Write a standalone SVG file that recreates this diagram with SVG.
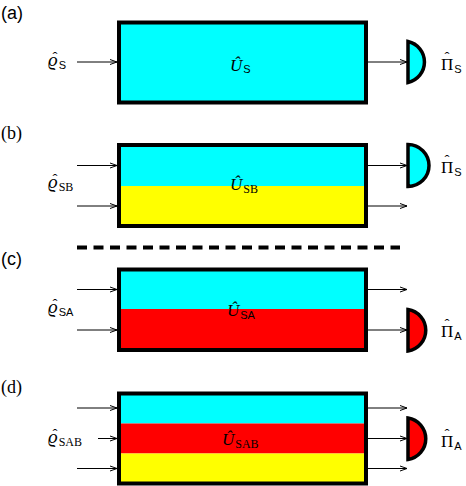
<svg xmlns="http://www.w3.org/2000/svg" width="466" height="486" viewBox="0 0 466 486">
<style>
.box{stroke:#000;stroke-width:4;fill:none}
.det{stroke:#000;stroke-width:3.5}
.cy{fill:#00FFFF}
.ye{fill:#FFFF00}
.rd{fill:#FF0000}
.ln{stroke:#000;stroke-width:1;fill:none;marker-end:url(#ah)}
.panel{font-family:"Liberation Sans",Arial,sans-serif;font-size:18px;fill:#000}
.panels{font-family:"Liberation Serif","Times New Roman",serif;font-size:18px;fill:#000}
.m{font-family:"Liberation Serif","Times New Roman",serif;font-size:17px;fill:#000}
.rho{font-size:19px}
.hat{font-family:"Liberation Serif","Times New Roman",serif;font-size:15px;fill:#000;text-anchor:middle}
.it{font-style:italic}
.sub{font-family:"Liberation Sans",Arial,sans-serif;font-size:11px;font-style:normal}
.subs{font-family:"Liberation Serif","Times New Roman",serif;font-size:12px;font-style:normal}
</style>
<defs>
<marker id="ah" markerUnits="userSpaceOnUse" markerWidth="10" markerHeight="8" viewBox="-8 -4 10 8" refX="0" refY="0" orient="auto">
<path d="M-7,-2.5 L0,0 L-7,2.5" stroke="#000" stroke-width="1" fill="none"/>
</marker>
</defs>

<g id="panel-labels">
<text class="panel" x="1" y="19">(a)</text>
<text class="panels" x="1" y="139">(b)</text>
<text class="panel" x="1" y="265">(c)</text>
<text class="panels" x="1" y="393">(d)</text>
</g>

<g id="separator">
<line x1="77" y1="247.5" x2="400" y2="247.5" stroke="#000" stroke-width="4" stroke-dasharray="10 6.5"/>
</g>

<g id="connectors">
<line class="ln" x1="77" y1="62" x2="117" y2="62"/>
<line class="ln" x1="368" y1="62" x2="407" y2="62"/>
<line class="ln" x1="77" y1="165.5" x2="117" y2="165.5"/>
<line class="ln" x1="77" y1="206" x2="117" y2="206"/>
<line class="ln" x1="368" y1="165.5" x2="407" y2="165.5"/>
<line class="ln" x1="368" y1="206" x2="407" y2="206"/>
<line class="ln" x1="77" y1="289.5" x2="117" y2="289.5"/>
<line class="ln" x1="77" y1="330" x2="117" y2="330"/>
<line class="ln" x1="368" y1="289.5" x2="407" y2="289.5"/>
<line class="ln" x1="368" y1="330" x2="407" y2="330"/>
<line class="ln" x1="77" y1="408" x2="117" y2="408"/>
<line class="ln" x1="98" y1="438.5" x2="117" y2="438.5"/>
<line class="ln" x1="77" y1="468.5" x2="117" y2="468.5"/>
<line class="ln" x1="368" y1="408" x2="407" y2="408"/>
<line class="ln" x1="368" y1="438.5" x2="407" y2="438.5"/>
<line class="ln" x1="368" y1="468.5" x2="407" y2="468.5"/>
</g>

<g id="a-input">
<text class="m it rho" x="48" y="66">ϱ<tspan class="sub" dx="1" dy="3">S</tspan></text>
<text class="hat" x="55" y="62">ˆ</text>
</g>
<g id="a-unitary">
<rect class="cy" x="119" y="22.5" width="247" height="80"/>
<rect class="box" x="119" y="22.5" width="247" height="80"/>
<text class="m it" x="230" y="71">Û<tspan class="sub" dx="1" dy="2">S</tspan></text>
</g>
<g id="a-detector">
<path class="det cy" d="M408,41.5 A21,21 0 0 1 408,82.5 Z"/>
<text class="m" x="441" y="70">Π<tspan class="sub" dx="1" dy="3">S</tspan></text>
<text class="hat" x="447" y="62">ˆ</text>
</g>

<g id="b-input">
<text class="m it rho" x="48" y="188">ϱ<tspan class="subs" dx="1" dy="3">SB</tspan></text>
<text class="hat" x="55" y="184">ˆ</text>
</g>
<g id="b-unitary">
<rect class="cy" x="119" y="145" width="247" height="41"/>
<rect class="ye" x="119" y="186" width="247" height="40"/>
<rect class="box" x="119" y="145" width="247" height="81"/>
<text class="m it" x="230" y="190">Û<tspan class="subs" dx="1" dy="3">SB</tspan></text>
</g>
<g id="b-detector">
<path class="det cy" d="M408,144.5 A21,21 0 0 1 408,186.5 Z"/>
<text class="m" x="441" y="173">Π<tspan class="sub" dx="1" dy="3">S</tspan></text>
<text class="hat" x="447" y="165">ˆ</text>
</g>

<g id="c-input">
<text class="m it rho" x="48" y="313">ϱ<tspan class="sub" dx="1" dy="3">SA</tspan></text>
<text class="hat" x="55" y="309">ˆ</text>
</g>
<g id="c-unitary">
<rect class="cy" x="119" y="269.5" width="247" height="39.5"/>
<rect class="rd" x="119" y="309" width="247" height="41"/>
<rect class="box" x="119" y="269.5" width="247" height="80.5"/>
<text class="m it" x="227" y="316">Û<tspan class="sub" dx="1" dy="3">SA</tspan></text>
</g>
<g id="c-detector">
<path class="det rd" d="M408,309.5 A21,21 0 0 1 408,351 Z"/>
<text class="m" x="441" y="337">Π<tspan class="sub" dx="1" dy="3">A</tspan></text>
<text class="hat" x="447" y="329">ˆ</text>
</g>

<g id="d-input">
<text class="m it rho" x="48" y="443">ϱ<tspan class="subs" dx="1" dy="3">SAB</tspan></text>
<text class="hat" x="55" y="439">ˆ</text>
</g>
<g id="d-unitary">
<rect class="cy" x="119" y="393.5" width="247" height="30"/>
<rect class="rd" x="119" y="423.5" width="247" height="30"/>
<rect class="ye" x="119" y="453.5" width="247" height="30"/>
<rect class="box" x="119" y="393.5" width="247" height="90"/>
<text class="m it" x="222" y="445">Û<tspan class="subs" dx="1" dy="3">SAB</tspan></text>
</g>
<g id="d-detector">
<path class="det rd" d="M408,418 A21,21 0 0 1 408,459.5 Z"/>
<text class="m" x="441" y="447">Π<tspan class="sub" dx="1" dy="3">A</tspan></text>
<text class="hat" x="447" y="439">ˆ</text>
</g>
</svg>
